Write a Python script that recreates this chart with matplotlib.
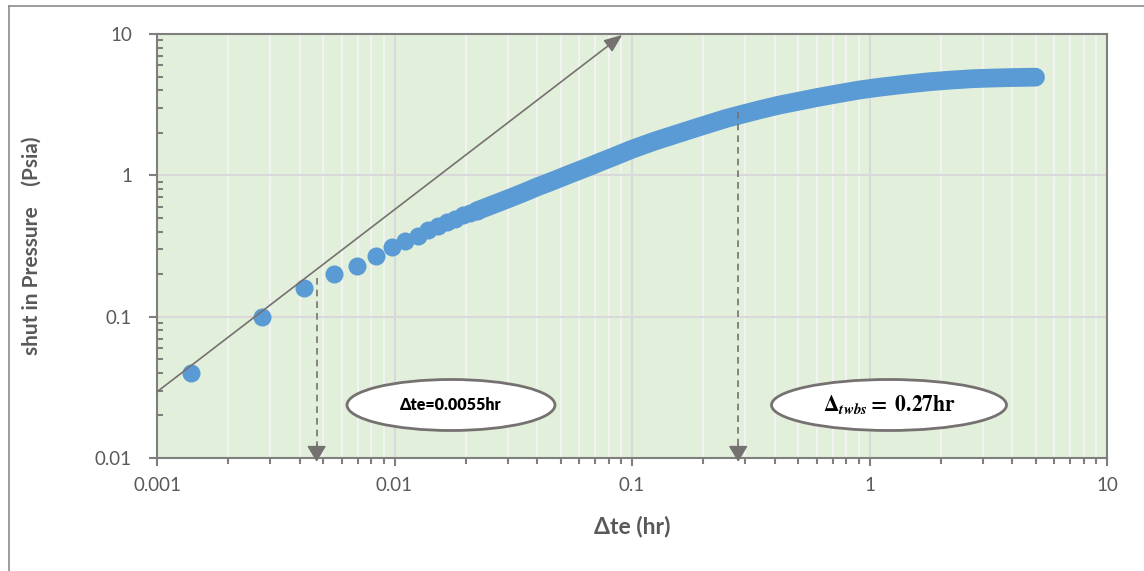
import matplotlib
matplotlib.use('Agg')
import matplotlib.pyplot as plt
from matplotlib.patches import Ellipse
from matplotlib.lines import Line2D
from matplotlib.ticker import FixedLocator, FixedFormatter, LogLocator, NullFormatter

# ---------------- data ----------------
# early, well separated points (time step 5 s = 0.001389 hr)
t_early = [0.00139, 0.00278, 0.00417, 0.00556, 0.00694, 0.00833, 0.00972,
           0.01111, 0.01250, 0.01389, 0.01528, 0.01667, 0.01806, 0.01944,
           0.02083, 0.02222]
dp_early = [0.040, 0.100, 0.160, 0.200, 0.230, 0.270, 0.310,
            0.345, 0.375, 0.410, 0.438, 0.465, 0.489, 0.520,
            0.540, 0.560]

# dense part of the record (overlapping markers form a band)
t_dense = [0.0222, 0.025, 0.0306, 0.035, 0.040, 0.045, 0.050, 0.0555,
           0.0666, 0.0733, 0.0833, 0.100, 0.125, 0.150, 0.193, 0.250,
           0.280, 0.350, 0.420, 0.510, 0.600, 0.750, 0.910, 1.10, 1.43,
           1.80, 2.20, 2.73, 3.30, 4.00, 5.00]
dp_dense = [0.560, 0.605, 0.690, 0.755, 0.830, 0.895, 0.960, 1.030,
            1.160, 1.240, 1.350, 1.530, 1.750, 1.930, 2.210, 2.530,
            2.660, 2.930, 3.150, 3.360, 3.550, 3.800, 4.020, 4.200, 4.420,
            4.600, 4.720, 4.830, 4.880, 4.920, 4.950]

x_ticks = [0.001, 0.01, 0.1, 1, 10]
x_ticklabels = ['0.001', '0.01', '0.1', '1', '10']
y_ticks = [0.01, 0.1, 1, 10]
y_ticklabels = ['0.01', '0.1', '1', '10']

# unit-slope guide line (start, end) and marker lines
guide_start = (0.001, 0.0294)
guide_end = (0.0910, 9.85)
te_x, te_top = 0.0047, 0.188
twbs_x, twbs_top = 0.28, 2.80
label_te = 'Δte=0.0055hr'
label_twbs = r'$\mathbf{\Delta}_{\boldsymbol{twbs}}\mathbf{=\ 0.27hr}$'

# ---------------- figure ----------------
plt.rcParams['font.family'] = ['Lato', 'DejaVu Sans']
W, H = 1144, 571
fig = plt.figure(figsize=(W / 100, H / 100), dpi=100)
ax = fig.add_axes([157 / W, 1 - 458 / H, 950 / W, 424 / H])

ax.set_xscale('log')
ax.set_yscale('log')
ax.set_xlim(0.001, 10)
ax.set_ylim(0.01, 10)
ax.set_facecolor('#E2EFDA')

grey = '#767171'
spine_c = '#7F7F7F'
for s in ax.spines.values():
    s.set_color(spine_c)
    s.set_linewidth(1.5)

ax.xaxis.set_major_locator(FixedLocator(x_ticks))
ax.xaxis.set_major_formatter(FixedFormatter(x_ticklabels))
ax.yaxis.set_major_locator(FixedLocator(y_ticks))
ax.yaxis.set_major_formatter(FixedFormatter(y_ticklabels))
ax.xaxis.set_minor_locator(LogLocator(base=10, subs=range(2, 10), numticks=20))
ax.yaxis.set_minor_locator(LogLocator(base=10, subs=range(2, 10), numticks=20))
ax.xaxis.set_minor_formatter(NullFormatter())
ax.yaxis.set_minor_formatter(NullFormatter())

ax.tick_params(axis='x', which='major', direction='out', length=6, width=1.5,
               color=spine_c, labelsize=13.5, labelcolor='#595959', pad=8)
ax.tick_params(axis='x', which='minor', direction='out', length=4, width=1.5,
               color=spine_c)
ax.tick_params(axis='y', which='major', direction='out', length=6, width=1.5,
               color=spine_c, labelsize=13.5, labelcolor='#595959', pad=12)
ax.tick_params(axis='y', which='minor', direction='in', length=4, width=1.5,
               color=spine_c)

ax.grid(True, which='major', axis='both', color='#D9D9D9', lw=1.5, zorder=0)
ax.grid(True, which='minor', axis='x', color='#F2F2F2', lw=1.5, zorder=0)
ax.set_axisbelow(True)

blue = '#5B9BD5'
ax.plot(t_dense, dp_dense, '-', color=blue, lw=13.5, solid_capstyle='round',
        solid_joinstyle='round', zorder=3)
ax.plot(t_early, dp_early, 'o', color=blue, ms=13, mec='none', zorder=3)

# guide line with arrow
ax.annotate('', xy=guide_end, xytext=guide_start, annotation_clip=False,
            arrowprops=dict(arrowstyle='-|>,head_length=0.55,head_width=0.22',
                            color=grey, lw=1.2, mutation_scale=20,
                            shrinkA=0, shrinkB=0), zorder=4)

# dashed droplines with solid heads
for xv, ytop in [(te_x, te_top), (twbs_x, twbs_top)]:
    ax.plot([xv, xv], [ytop, 0.0115], ls=(0, (4, 3)), color=grey, lw=1.2, zorder=4)
    ax.annotate('', xy=(xv, 0.0094), xytext=(xv, 0.0125), annotation_clip=False,
                arrowprops=dict(arrowstyle='-|>,head_length=0.5,head_width=0.3',
                                color=grey, lw=1.0, mutation_scale=20,
                                shrinkA=0, shrinkB=0), zorder=4)

# callout ellipses
for cx, w, txt, kw in [((451 - 157) / 950, 208 / 950, label_te,
                        dict(fontsize=11.5, fontweight='heavy')),
                       ((889 - 157) / 950, 235 / 950, label_twbs,
                        dict(fontsize=15.5, math_fontfamily='stix'))]:
    cy = 1 - (405 - 34) / 424
    e = Ellipse((cx, cy), w, 51 / 424, transform=ax.transAxes, facecolor='white',
                edgecolor=grey, lw=2, zorder=5)
    ax.add_patch(e)
    ax.text(cx, cy, txt, transform=ax.transAxes, ha='center', va='center',
            color='black', zorder=6, **kw)

ax.set_xlabel('Δte (hr)', fontsize=16.5, fontweight='bold', color='#595959', labelpad=15)
ax.set_ylabel('shut in Pressure    (Psia)', fontsize=15, fontweight='bold',
              color='#595959', labelpad=38)

# outer chart frame
fig.add_artist(Line2D([9 / W, 9 / W], [0, 1 - 5.5 / H], transform=fig.transFigure,
                      color='#8C8C8C', lw=1.2))
fig.add_artist(Line2D([9 / W, 1], [1 - 5.5 / H, 1 - 5.5 / H], transform=fig.transFigure,
                      color='#8C8C8C', lw=1.2))

fig.savefig('out.png', dpi=100)
